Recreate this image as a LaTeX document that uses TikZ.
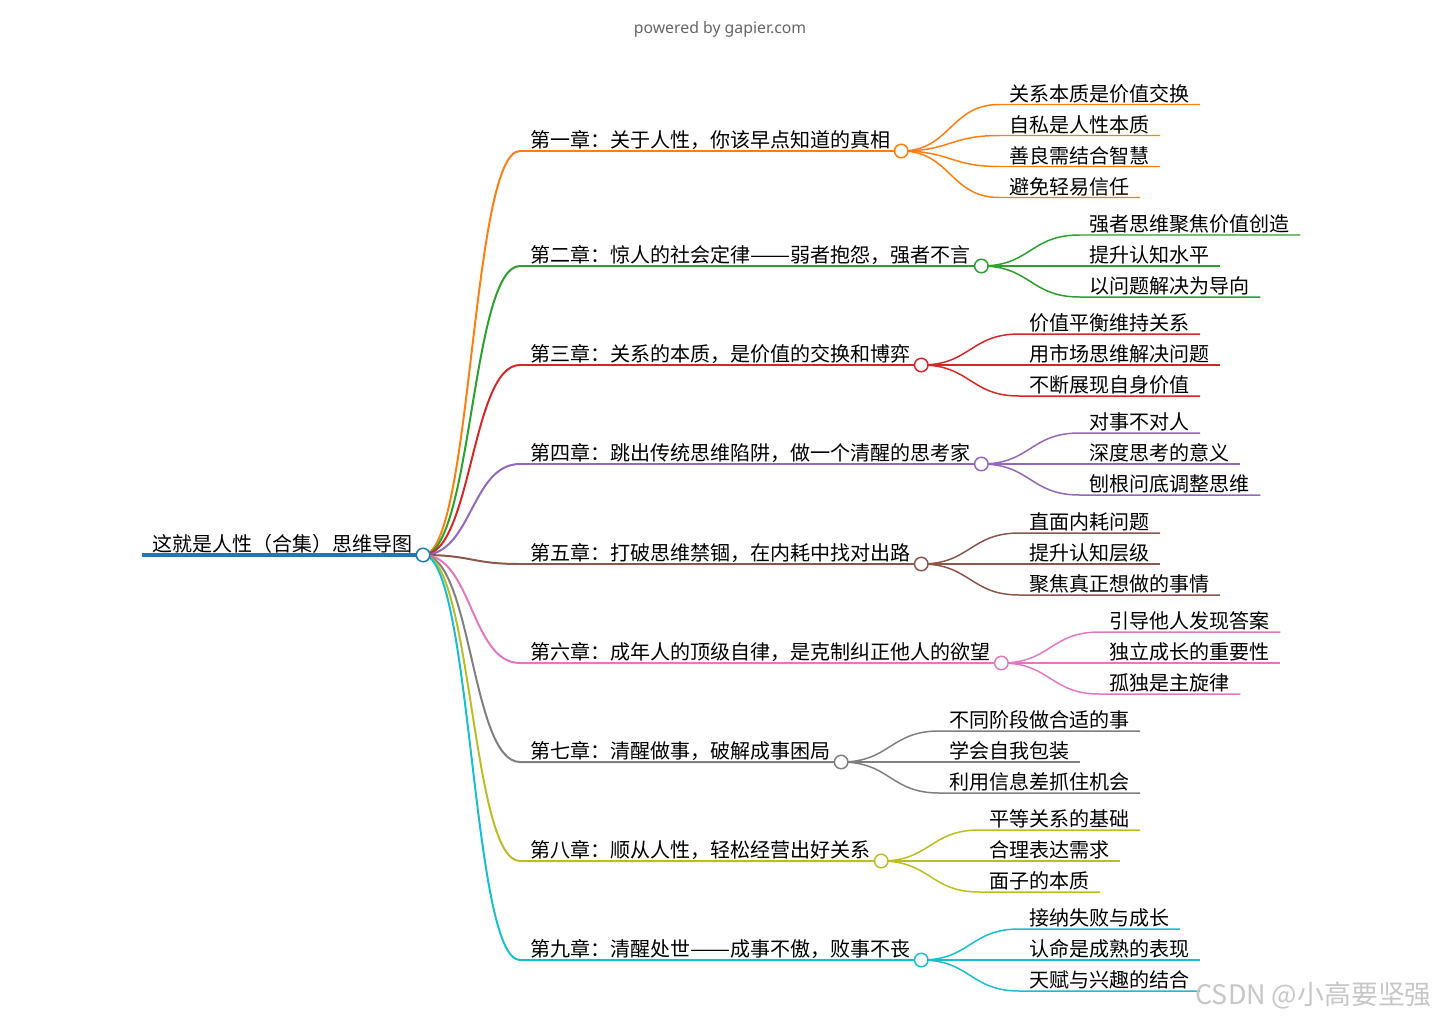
\documentclass[tikz,border=0pt]{standalone}
\usepackage{fontspec}
\usepackage{graphicx}
\setmainfont{Noto Sans CJK SC}
\newfontfamily\creditfont{Noto Sans}
\usetikzlibrary{calc}
\definecolor{rootc}{HTML}{1F77B4}
\definecolor{orangeb}{HTML}{FF7F0E}
\definecolor{greenb}{HTML}{2CA02C}
\definecolor{redb}{HTML}{D62728}
\definecolor{purpleb}{HTML}{9467BD}
\definecolor{brownb}{HTML}{8C564B}
\definecolor{pinkb}{HTML}{E377C2}
\definecolor{grayb}{HTML}{7F7F7F}
\definecolor{oliveb}{HTML}{BCBD22}
\definecolor{cyanb}{HTML}{17BECF}
\newcommand\longdash{\resizebox{2em}{\height}{——}}

\begin{document}
\begin{tikzpicture}[x=0.02cm,y=-0.02cm,
  topic/.style={anchor=south west,inner xsep=0.2cm,inner ysep=0.01cm,text height=0.35cm,text depth=0.05cm,font=\fontsize{11.4pt}{13pt}\selectfont},
  dot/.style={circle,draw,fill=white,inner sep=0pt,minimum size=0.27cm,line width=0.85pt},
  link/.style={line width=1.13pt},
  sub/.style={line width=0.85pt}
]
\useasboundingbox (0,0) rectangle (1440,1021);
\node[font=\creditfont\fontsize{9pt}{10pt}\selectfont,text=black!60] (credit) at (720,29) {powered by gapier.com};

% root and chapters
\node[topic] (root) at (142,555) {这就是人性（合集）思维导图};
\node[topic] (c1) at (520,151) {第一章：关于人性，你该早点知道的真相};
\node[topic] (c2) at (520,266) {第二章：惊人的社会定律\longdash 弱者抱怨，强者不言};
\node[topic] (c3) at (520,365) {第三章：关系的本质，是价值的交换和博弈};
\node[topic] (c4) at (520,464) {第四章：跳出传统思维陷阱，做一个清醒的思考家};
\node[topic] (c5) at (520,564) {第五章：打破思维禁锢，在内耗中找对出路};
\node[topic] (c6) at (520,663) {第六章：成年人的顶级自律，是克制纠正他人的欲望};
\node[topic] (c7) at (520,762) {第七章：清醒做事，破解成事困局};
\node[topic] (c8) at (520,861) {第八章：顺从人性，轻松经营出好关系};
\node[topic] (c9) at (520,960) {第九章：清醒处世\longdash 成事不傲，败事不丧};

% leaves
\node[topic] (c1a) at ($(c1.south east)+(98,-46.5)$) {关系本质是价值交换};
\node[topic] (c1b) at ($(c1.south east)+(98,-15.5)$) {自私是人性本质};
\node[topic] (c1c) at ($(c1.south east)+(98,15.5)$) {善良需结合智慧};
\node[topic] (c1d) at ($(c1.south east)+(98,46.5)$) {避免轻易信任};
\node[topic] (c2a) at ($(c2.south east)+(98,-31)$) {强者思维聚焦价值创造};
\node[topic] (c2b) at ($(c2.south east)+(98,0)$) {提升认知水平};
\node[topic] (c2c) at ($(c2.south east)+(98,31)$) {以问题解决为导向};
\node[topic] (c3a) at ($(c3.south east)+(98,-31)$) {价值平衡维持关系};
\node[topic] (c3b) at ($(c3.south east)+(98,0)$) {用市场思维解决问题};
\node[topic] (c3c) at ($(c3.south east)+(98,31)$) {不断展现自身价值};
\node[topic] (c4a) at ($(c4.south east)+(98,-31)$) {对事不对人};
\node[topic] (c4b) at ($(c4.south east)+(98,0)$) {深度思考的意义};
\node[topic] (c4c) at ($(c4.south east)+(98,31)$) {刨根问底调整思维};
\node[topic] (c5a) at ($(c5.south east)+(98,-31)$) {直面内耗问题};
\node[topic] (c5b) at ($(c5.south east)+(98,0)$) {提升认知层级};
\node[topic] (c5c) at ($(c5.south east)+(98,31)$) {聚焦真正想做的事情};
\node[topic] (c6a) at ($(c6.south east)+(98,-31)$) {引导他人发现答案};
\node[topic] (c6b) at ($(c6.south east)+(98,0)$) {独立成长的重要性};
\node[topic] (c6c) at ($(c6.south east)+(98,31)$) {孤独是主旋律};
\node[topic] (c7a) at ($(c7.south east)+(98,-31)$) {不同阶段做合适的事};
\node[topic] (c7b) at ($(c7.south east)+(98,0)$) {学会自我包装};
\node[topic] (c7c) at ($(c7.south east)+(98,31)$) {利用信息差抓住机会};
\node[topic] (c8a) at ($(c8.south east)+(98,-31)$) {平等关系的基础};
\node[topic] (c8b) at ($(c8.south east)+(98,0)$) {合理表达需求};
\node[topic] (c8c) at ($(c8.south east)+(98,31)$) {面子的本质};
\node[topic] (c9a) at ($(c9.south east)+(98,-31)$) {接纳失败与成长};
\node[topic] (c9b) at ($(c9.south east)+(98,0)$) {认命是成熟的表现};
\node[topic] (c9c) at ($(c9.south east)+(98,31)$) {天赋与兴趣的结合};

% connectors
\draw[rootc,line width=2.8pt] (root.south west) -- (root.south east);
\draw[link,orangeb] (root.south east) .. controls +(49,0) and +(-49,0) .. (c1.south west) -- (c1.south east);
\draw[link,greenb] (root.south east) .. controls +(49,0) and +(-49,0) .. (c2.south west) -- (c2.south east);
\draw[link,redb] (root.south east) .. controls +(49,0) and +(-49,0) .. (c3.south west) -- (c3.south east);
\draw[link,purpleb] (root.south east) .. controls +(49,0) and +(-49,0) .. (c4.south west) -- (c4.south east);
\draw[link,brownb] (root.south east) .. controls +(49,0) and +(-49,0) .. (c5.south west) -- (c5.south east);
\draw[link,pinkb] (root.south east) .. controls +(49,0) and +(-49,0) .. (c6.south west) -- (c6.south east);
\draw[link,grayb] (root.south east) .. controls +(49,0) and +(-49,0) .. (c7.south west) -- (c7.south east);
\draw[link,oliveb] (root.south east) .. controls +(49,0) and +(-49,0) .. (c8.south west) -- (c8.south east);
\draw[link,cyanb] (root.south east) .. controls +(49,0) and +(-49,0) .. (c9.south west) -- (c9.south east);

\draw[sub,orangeb] (c1.south east) .. controls +(49,0) and +(-49,0) .. (c1a.south west) -- (c1a.south east);
\draw[sub,orangeb] (c1.south east) .. controls +(49,0) and +(-49,0) .. (c1b.south west) -- (c1b.south east);
\draw[sub,orangeb] (c1.south east) .. controls +(49,0) and +(-49,0) .. (c1c.south west) -- (c1c.south east);
\draw[sub,orangeb] (c1.south east) .. controls +(49,0) and +(-49,0) .. (c1d.south west) -- (c1d.south east);
\draw[sub,greenb] (c2.south east) .. controls +(49,0) and +(-49,0) .. (c2a.south west) -- (c2a.south east);
\draw[sub,greenb] (c2.south east) -- (c2b.south west) -- (c2b.south east);
\draw[sub,greenb] (c2.south east) .. controls +(49,0) and +(-49,0) .. (c2c.south west) -- (c2c.south east);
\draw[sub,redb] (c3.south east) .. controls +(49,0) and +(-49,0) .. (c3a.south west) -- (c3a.south east);
\draw[sub,redb] (c3.south east) -- (c3b.south west) -- (c3b.south east);
\draw[sub,redb] (c3.south east) .. controls +(49,0) and +(-49,0) .. (c3c.south west) -- (c3c.south east);
\draw[sub,purpleb] (c4.south east) .. controls +(49,0) and +(-49,0) .. (c4a.south west) -- (c4a.south east);
\draw[sub,purpleb] (c4.south east) -- (c4b.south west) -- (c4b.south east);
\draw[sub,purpleb] (c4.south east) .. controls +(49,0) and +(-49,0) .. (c4c.south west) -- (c4c.south east);
\draw[sub,brownb] (c5.south east) .. controls +(49,0) and +(-49,0) .. (c5a.south west) -- (c5a.south east);
\draw[sub,brownb] (c5.south east) -- (c5b.south west) -- (c5b.south east);
\draw[sub,brownb] (c5.south east) .. controls +(49,0) and +(-49,0) .. (c5c.south west) -- (c5c.south east);
\draw[sub,pinkb] (c6.south east) .. controls +(49,0) and +(-49,0) .. (c6a.south west) -- (c6a.south east);
\draw[sub,pinkb] (c6.south east) -- (c6b.south west) -- (c6b.south east);
\draw[sub,pinkb] (c6.south east) .. controls +(49,0) and +(-49,0) .. (c6c.south west) -- (c6c.south east);
\draw[sub,grayb] (c7.south east) .. controls +(49,0) and +(-49,0) .. (c7a.south west) -- (c7a.south east);
\draw[sub,grayb] (c7.south east) -- (c7b.south west) -- (c7b.south east);
\draw[sub,grayb] (c7.south east) .. controls +(49,0) and +(-49,0) .. (c7c.south west) -- (c7c.south east);
\draw[sub,oliveb] (c8.south east) .. controls +(49,0) and +(-49,0) .. (c8a.south west) -- (c8a.south east);
\draw[sub,oliveb] (c8.south east) -- (c8b.south west) -- (c8b.south east);
\draw[sub,oliveb] (c8.south east) .. controls +(49,0) and +(-49,0) .. (c8c.south west) -- (c8c.south east);
\draw[sub,cyanb] (c9.south east) .. controls +(49,0) and +(-49,0) .. (c9a.south west) -- (c9a.south east);
\draw[sub,cyanb] (c9.south east) -- (c9b.south west) -- (c9b.south east);
\draw[sub,cyanb] (c9.south east) .. controls +(49,0) and +(-49,0) .. (c9c.south west) -- (c9c.south east);

% fold circles on top
\node[dot,draw=rootc] (rooto) at (root.south east) {};
\node[dot,draw=orangeb] (c1o) at (c1.south east) {};
\node[dot,draw=greenb] (c2o) at (c2.south east) {};
\node[dot,draw=redb] (c3o) at (c3.south east) {};
\node[dot,draw=purpleb] (c4o) at (c4.south east) {};
\node[dot,draw=brownb] (c5o) at (c5.south east) {};
\node[dot,draw=pinkb] (c6o) at (c6.south east) {};
\node[dot,draw=grayb] (c7o) at (c7.south east) {};
\node[dot,draw=oliveb] (c8o) at (c8.south east) {};
\node[dot,draw=cyanb] (c9o) at (c9.south east) {};

\node[anchor=east,text=black!22,font=\fontsize{15.3pt}{17pt}\selectfont] (mark) at (1438,995) {CSDN @小高要坚强};
\end{tikzpicture}
\end{document}
